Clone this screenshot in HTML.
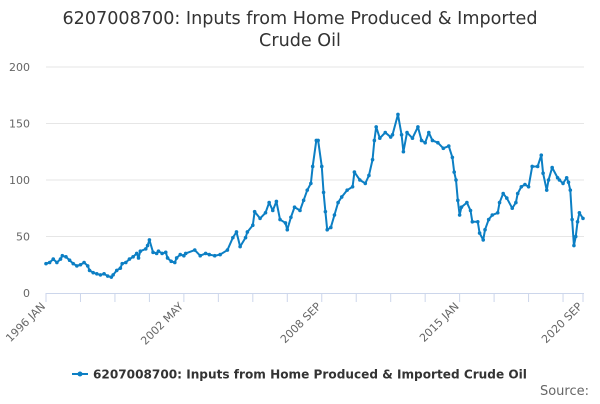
<!DOCTYPE html>
<html><head><meta charset="utf-8"><style>
body{margin:0;background:#fff;font-family:"DejaVu Sans",sans-serif}
svg text{font-family:"DejaVu Sans","Liberation Sans",sans-serif}
</style></head><body>
<svg id="chart" width="600" height="400" xmlns="http://www.w3.org/2000/svg">
<text x="300" y="24" text-anchor="middle" font-size="17.6" fill="#333">6207008700: Inputs from Home Produced &amp; Imported</text>
<text x="300" y="46" text-anchor="middle" font-size="17.6" fill="#333">Crude Oil</text>
<g id="grid"></g><g id="axes"></g><g id="series"></g>
<g>
<line x1="72" y1="374" x2="88" y2="374" stroke="#0c7fc4" stroke-width="2"/>
<circle cx="80" cy="374" r="2.5" fill="#0c7fc4"/>
<text x="93" y="378.5" font-size="12.1" font-weight="bold" fill="#333">6207008700: Inputs from Home Produced &amp; Imported Crude Oil</text>
</g>
<text x="589" y="395" text-anchor="end" font-size="13" fill="#666">Source:</text>
</svg>
<script>
const yTicks=[0,50,100,150,200];
const xLabels=["1996 JAN","2002 MAY","2008 SEP","2015 JAN","2020 SEP"];
const xLabelMonths=[0,76,152,228,296];
const monthIndex=[0,2,4,6,8,9,11,13,15,17,19,21,23,24,26,28,30,32,34,36,37,39,41,42,44,46,48,50,51,52,55,56,57,59,61,62,64,66,67,69,71,72,74,76,77,82,85,88,90,93,96,100,103,105,107,110,111,114,115,118,121,123,125,127,129,132,133,135,137,140,142,144,146,147,149,150,152,153,154,155,157,159,161,163,166,169,170,173,176,178,180,181,182,184,187,190,191,194,196,197,199,202,205,207,209,211,213,216,219,222,224,225,226,227,228,229,232,234,235,238,239,241,242,244,246,249,250,252,254,257,259,260,262,264,266,268,271,273,274,276,277,279,282,283,285,287,288,289,290,291,292,293,294,296];
const values=[26,27,30,27,30,33,32,29,26,24,25,27,24,20,18,17,16,17,15,14,16,20,22,26,27,30,32,35,31,37,39,42,47,36,35,37,35,36,31,28,27,31,34,33,35,38,33,35,34,33,34,38,49,54,41,49,54,60,72,66,71,80,73,81,65,62,56,67,76,73,82,91,97,112,135,135,112,89,72,56,58,69,80,85,91,94,107,100,97,104,118,135,147,137,142,138,140,158,140,125,142,137,147,135,133,142,135,133,128,130,120,107,100,82,69,76,80,73,63,63,53,47,56,65,69,71,80,88,84,75,80,88,94,96,94,112,112,122,106,91,100,111,102,100,97,102,98,91,65,42,50,63,71,66];
const X0=46,X1=583,M=296,Y0=293,Y1=67,YMAX=200;
const xs=m=>X0+(X1-X0)*m/M, ys=v=>Y0-(Y0-Y1)*v/YMAX;
const NS="http://www.w3.org/2000/svg";
const mk=(t,a,p)=>{const e=document.createElementNS(NS,t);for(const k in a)e.setAttribute(k,a[k]);p.appendChild(e);return e;};
const grid=document.getElementById('grid'),axes=document.getElementById('axes'),ser=document.getElementById('series');
yTicks.forEach(v=>{
 if(v>0){const l=mk('line',{x1:X0,x2:X1+1,y1:ys(v),y2:ys(v),stroke:'#e6e6e6','stroke-width':1},grid);
 
 }
 const t=mk('text',{x:30,y:ys(v)+4,'text-anchor':'end','font-size':11,fill:'#666'},axes);t.textContent=v;
 
 
});
const ax=mk('line',{x1:X0,x2:X1+1,y1:Y0+0.5,y2:Y0+0.5,stroke:'#ccd6eb','stroke-width':1},axes);


for(let m=0;m<=M;m+=19){
 const tk=mk('line',{x1:xs(m),x2:xs(m),y1:Y0,y2:Y0+9,stroke:'#ccd6eb','stroke-width':1},axes);
 
 
}
const last=mk('line',{x1:xs(M),x2:xs(M),y1:Y0,y2:Y0+9,stroke:'#ccd6eb'},axes);


xLabels.forEach((s,i)=>{
 const x=xs(xLabelMonths[i]),y=Y0+14;
 const t=mk('text',{x:x,y:y,'text-anchor':'end','font-size':11,fill:'#666',transform:`rotate(-45 ${x} ${y})`},axes);
 t.textContent=s;
 
 
});
const pts=monthIndex.map((m,i)=>xs(m)+','+ys(values[i])).join(' ');
const pl=mk('polyline',{points:pts,fill:'none',stroke:'#0c7fc4','stroke-width':2,'stroke-linejoin':'round'},ser);


monthIndex.forEach((m,i)=>{
 const c=mk('circle',{cx:xs(m),cy:ys(values[i]),r:1.8,fill:'#0c7fc4'},ser);
 
 
});
</script>
</body></html>
